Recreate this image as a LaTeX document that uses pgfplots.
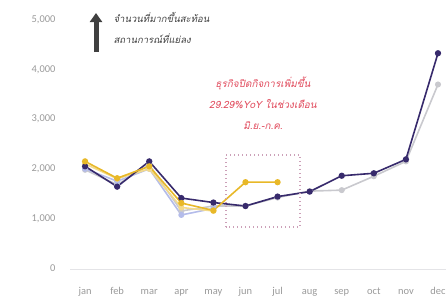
\documentclass[border=0pt]{standalone}
\usepackage{pgfplots}
\pgfplotsset{compat=1.18}
\usepackage{fontspec}
\setmainfont{Carlito}
\newfontfamily\thaifont[Script=Thai]{Loma}
\usetikzlibrary{arrows.meta}
\definecolor{dpurple}{HTML}{372A6C}
\definecolor{gold}{HTML}{E8B828}
\definecolor{lgray}{HTML}{C9C9CE}
\definecolor{lyellow}{HTML}{F3DA8A}
\definecolor{lblue}{HTML}{B4BCEA}
\definecolor{redtxt}{HTML}{E0485A}
\definecolor{boxc}{HTML}{CCA0B8}
\definecolor{tickc}{HTML}{9A9A9A}
\begin{document}
\begin{tikzpicture}[x=1bp,y=1bp]
\useasboundingbox (0,0) rectangle (446,297);
\begin{axis}[
  at={(70bp,29bp)}, anchor=south west,
  width=376bp, height=248bp, scale only axis,
  xmin=-0.47, xmax=11.25, ymin=0, ymax=5000,
  axis x line=bottom, axis y line=left,
  axis line style={draw=none},
  xtick={0,...,11},
  xticklabels={jan,feb,mar,apr,may,jun,jul,aug,sep,oct,nov,dec},
  ytick={0,1000,2000,3000,4000,5000},
  yticklabels={0,{1,000},{2,000},{3,000},{4,000},{5,000}},
  tick label style={font=\fontsize{10.5}{12}\selectfont, text=tickc},
  yticklabel style={anchor=east, xshift=-11bp},
  xticklabel style={anchor=base, yshift=-26bp},
  major tick length=0pt,
  /pgf/number format/assume math mode=true,
  clip=false,
]
\draw[lgray!50, line width=1bp] (axis cs:-0.47,-40) -- (axis cs:11.25,-40);
\addplot[lgray, line width=1.6bp, mark=*, mark size=2.2bp] coordinates {
(0,1980) (1,1680) (2,2080) (3,1150) (4,1250) (5,1250) (6,1420) (7,1550) (8,1570) (9,1850) (10,2150) (11,3700)};
\addplot[lblue, line width=1.6bp, mark=*, mark size=2.2bp] coordinates {
(0,2000) (1,1750) (2,2000) (3,1070) (4,1200)};
\addplot[lyellow, line width=1.6bp, mark=*, mark size=2.2bp] coordinates {
(0,2100) (1,1800) (2,2000) (3,1220) (4,1150)};
\addplot[dpurple, line width=1.6bp, mark=*, mark size=2.3bp] coordinates {
(0,2050) (1,1640) (2,2150) (3,1410) (4,1320) (5,1250) (6,1440) (7,1540) (8,1860) (9,1910) (10,2190) (11,4330)};
\addplot[gold, line width=1.6bp, mark=*, mark size=2.3bp] coordinates {
(0,2150) (1,1810) (2,2050) (3,1310) (4,1160) (5,1730) (6,1730)};
\draw[boxc, dash pattern=on 1.3bp off 2.7bp, line width=1.4bp] (axis cs:4.39,830) rectangle (axis cs:6.70,2280);
\end{axis}
\draw[line width=5bp, -{Triangle[width=12bp,length=9bp]}, black!75] (96,245) -- (96,284);
\node[anchor=west, text=black!75, align=left, font=\thaifont\fontsize{9.6}{21}\selectfont\itshape] at (110,269) {จำนวนที่มากขึ้นสะท้อน\\สถานการณ์ที่แย่ลง};
\node[text=redtxt, align=center, font=\thaifont\fontsize{10}{21}\selectfont\itshape] at (263,194) {ธุรกิจปิดกิจการเพิ่มขึ้น\\29.29\%YoY ในช่วงเดือน\\มิ.ย.-ก.ค.};
\end{tikzpicture}
\end{document}
